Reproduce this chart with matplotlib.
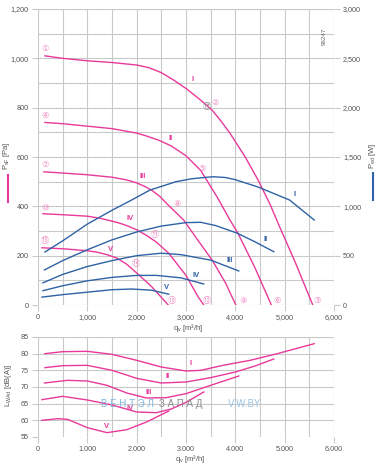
import matplotlib
matplotlib.use("Agg")
import matplotlib.pyplot as plt
from matplotlib.ticker import FuncFormatter, MultipleLocator
from matplotlib.lines import Line2D

plt.rcParams['font.family'] = ['Liberation Sans', 'DejaVu Sans']

MAGENTA = '#e8399b'
BLUE = '#2f62a6'
PINK = '#f28cc5'
GRID = '#c9c9c9'
TXT = '#555555'

# pressure curves P_sF [Pa] vs q_v [m3/h]
p1_q = [140, 500, 1000, 1500, 2000, 2250, 2500, 2750, 3020, 3300, 3530, 3700, 3890, 4200, 4460, 4700, 4900, 5200, 5570]
p1_p = [1010, 1000, 990, 983, 973, 962, 942, 912, 875, 830, 790, 748, 697, 600, 507, 410, 316, 180, 0]
p2_q = [140, 500, 1000, 1500, 2000, 2200, 2450, 2700, 3000, 3300, 3630, 3890, 4050, 4400, 4730]
p2_p = [740, 735, 725, 715, 697, 685, 668, 645, 605, 545, 438, 345, 292, 150, 0]
p3_q = [120, 500, 1000, 1500, 1800, 2000, 2150, 2300, 2470, 2640, 2950, 3250, 3530, 3800, 4010]
p3_p = [540, 535, 528, 518, 507, 495, 482, 466, 440, 405, 345, 260, 182, 90, 0]
p4_q = [100, 500, 1000, 1250, 1500, 1650, 1800, 2000, 2200, 2400, 2650, 3000, 3240, 3360]
p4_p = [370, 366, 360, 352, 340, 332, 322, 305, 282, 255, 210, 120, 35, 0]
p5_q = [80, 500, 1000, 1200, 1400, 1600, 1800, 2000, 2300, 2640]
p5_p = [232, 228, 220, 214, 204, 190, 165, 130, 75, 0]

# power curves P_ed [W]
w1_q = [140, 500, 1000, 1500, 1860, 2270, 2800, 3100, 3320, 3550, 3800, 4000, 4460, 5100, 5600]
w1_w = [537, 650, 820, 960, 1054, 1165, 1250, 1278, 1290, 1300, 1292, 1270, 1196, 1064, 861]
w2_q = [130, 500, 1000, 1500, 2000, 2500, 3000, 3300, 3600, 4030, 4400, 4780]
w2_w = [355, 450, 560, 660, 740, 800, 835, 838, 805, 730, 640, 540]
w3_q = [100, 500, 1000, 1500, 2000, 2500, 2900, 3500, 4070]
w3_w = [225, 310, 390, 450, 500, 525, 510, 455, 345]
w4_q = [100, 500, 1000, 1500, 2000, 2400, 2900, 3360]
w4_w = [145, 195, 245, 280, 300, 300, 275, 213]
w5_q = [80, 500, 1000, 1500, 1900, 2300, 2650]
w5_w = [80, 105, 130, 155, 162, 150, 110]

# sound power L_WAd [dB(A)]
l1_q = [140, 500, 1000, 1500, 2000, 2500, 3000, 3300, 3750, 4300, 4850, 5600]
l1_l = [80.0, 80.6, 80.7, 79.8, 78.0, 76.0, 74.8, 75.0, 76.5, 78.0, 80.0, 83.0]
l2_q = [140, 500, 1000, 1500, 2000, 2500, 3000, 3500, 4000, 4400, 4780]
l2_l = [75.8, 76.4, 76.5, 75.0, 72.6, 71.2, 71.5, 72.8, 74.5, 76.3, 78.4]
l3_q = [130, 600, 1000, 1400, 1800, 2200, 2600, 3000, 3500, 4070]
l3_l = [71.2, 72.0, 71.8, 70.5, 68.2, 66.7, 66.8, 68.0, 70.5, 73.3]
l4_q = [80, 500, 1000, 1500, 2000, 2400, 2700, 3000, 3360]
l4_l = [66.2, 67.2, 66.1, 64.6, 62.5, 62.3, 63.4, 65.4, 68.5]
l5_q = [80, 400, 600, 1000, 1400, 1800, 2200, 2650]
l5_l = [60.0, 60.5, 60.3, 57.8, 56.3, 57.2, 59.5, 62.8]

roman = ['I', 'II', 'III', 'IV', 'V']
start_lbl = ['①', '④', '⑦', '⑩', '⑬']
mid_lbl = ['②', '⑤', '⑧', '⑪', '⑭']
end_lbl = ['③', '⑥', '⑨', '⑫', '⑮']
CIRC = ['DejaVu Sans', 'Noto Sans CJK SC']

fig = plt.figure(figsize=(3.9, 4.67), dpi=100)
W, H = 390.0, 467.0
ax = fig.add_axes([38 / W, 1 - 305 / H, 296 / W, 296 / H])
ax2 = ax.twinx()
ax3 = fig.add_axes([38 / W, 1 - 437 / H, 296 / W, 100 / H])

comma = FuncFormatter(lambda v, p: f'{int(v):,}')
dot = FuncFormatter(lambda v, p: f'{int(v):,}'.replace(',', '.'))


def style(a):
    for s in a.spines.values():
        s.set_visible(False)
    a.set_axisbelow(True)
    a.tick_params(colors=GRID, labelcolor=TXT, labelsize=5.2, length=4, width=0.8, pad=2.5)
    a.grid(True, which='both', color=GRID, linewidth=0.8)
    a.tick_params(which='minor', length=0)


# top chart
style(ax)
ax.set_xlim(0, 6000)
ax.set_ylim(0, 1200)
ax.xaxis.set_major_locator(MultipleLocator(1000))
ax.xaxis.set_minor_locator(MultipleLocator(500))
ax.yaxis.set_major_locator(MultipleLocator(200))
ax.yaxis.set_minor_locator(MultipleLocator(100))
ax.xaxis.set_major_formatter(comma)
ax.yaxis.set_major_formatter(comma)
ax.axvline(6000, color=GRID, lw=0.8)
ax.axhline(1200, color=GRID, lw=0.8)

for s in ax2.spines.values():
    s.set_visible(False)
ax2.set_ylim(0, 3000)
ax2.yaxis.set_major_locator(MultipleLocator(500))
ax2.yaxis.set_major_formatter(comma)
ax2.tick_params(colors=GRID, labelcolor=TXT, labelsize=5.2, length=4, width=0.8, pad=2.5)

pq = [p1_q, p2_q, p3_q, p4_q, p5_q]
pp = [p1_p, p2_p, p3_p, p4_p, p5_p]
for q, p in zip(pq, pp):
    ax.plot(q, p, color=MAGENTA, lw=1.0)

wq = [w1_q, w2_q, w3_q, w4_q, w5_q]
ww = [w1_w, w2_w, w3_w, w4_w, w5_w]
for q, w in zip(wq, ww):
    ax2.plot(q, w, color=BLUE, lw=1.0)

# labels on pressure curves
p_lbl_pos = [(3140, 916), (2680, 677), (2130, 519), (1865, 349), (1460, 227)]
for r, (x, y) in zip(roman, p_lbl_pos):
    ax.text(x, y, r, color=MAGENTA, fontsize=5.5, ha='center', va='center', fontweight='bold')
w_lbl_pos = [(5210, 1125), (4620, 659), (3890, 456), (3200, 304), (2615, 182)]
for r, (x, y) in zip(roman, w_lbl_pos):
    ax2.text(x, y, r, color=BLUE, fontsize=5.5, ha='center', va='center', fontweight='bold')

start_pos = [(142, 1038), (142, 770), (150, 568), (150, 397), (140, 263)]
mid_pos = [(3590, 819), (3325, 555), (2820, 413), (2372, 284), (1986, 170)]
end_pos = [(5655, 20), (4845, 20), (4155, 20), (3426, 20), (2716, 20)]
for labels, pos in [(start_lbl, start_pos), (mid_lbl, mid_pos), (end_lbl, end_pos)]:
    for t, (x, y) in zip(labels, pos):
        ax.text(x, y, t, color=PINK, fontsize=6, ha='center', va='center', family=CIRC)
ax.text(3430, 803, '⑰', color='#888888', fontsize=6, ha='center', va='center', family=CIRC)
ax.text(5800, 1090, '96247', color='#666666', fontsize=4.5, rotation=90, ha='center', va='center')

# bottom chart
style(ax3)
ax3.set_xlim(0, 6000)
ax3.set_ylim(55, 85)
ax3.xaxis.set_major_locator(MultipleLocator(1000))
ax3.xaxis.set_minor_locator(MultipleLocator(500))
ax3.yaxis.set_major_locator(MultipleLocator(5))
ax3.xaxis.set_major_formatter(dot)
ax3.axvline(6000, color=GRID, lw=0.8)
ax3.axhline(85, color=GRID, lw=0.8)

lq = [l1_q, l2_q, l3_q, l4_q, l5_q]
ll = [l1_l, l2_l, l3_l, l4_l, l5_l]
for q, l in zip(lq, ll):
    ax3.plot(q, l, color=MAGENTA, lw=1.0)
l_lbl_pos = [(3100, 76.9), (2635, 73.0), (2250, 68.2), (1865, 63.4), (1380, 58.0)]
for r, (x, y) in zip(roman, l_lbl_pos):
    ax3.text(x, y, r, color=MAGENTA, fontsize=5.5, ha='center', va='center', fontweight='bold')

# watermark
fig.text(101 / W, 1 - 404 / H, 'В Е Н Т Э Л', color='#7fb6df', fontsize=7, ha='left', va='center')
fig.text(159 / W, 1 - 404 / H, 'З А П А Д', color='#8a8a8a', fontsize=7, ha='left', va='center')
fig.text(228 / W, 1 - 404 / H, 'V-W.BY', color='#9cc3e3', fontsize=7, ha='left', va='center')

# axis titles
fig.text(7 / W, 1 - 156 / H, r'$\mathregular{P_{sF}}$ [Pa]', rotation=90, color=TXT, fontsize=5.5,
         ha='center', va='center')
fig.add_artist(Line2D([8 / W, 8 / W], [1 - 175 / H, 1 - 202 / H], color=MAGENTA, lw=1.5))
fig.text(373 / W, 1 - 156 / H, r'$\mathregular{P_{ed}}$ [W]', rotation=90, color=TXT, fontsize=5.5,
         ha='center', va='center')
fig.add_artist(Line2D([373 / W, 373 / W], [1 - 173 / H, 1 - 200 / H], color=BLUE, lw=1.5))
fig.text(188 / W, 1 - 328 / H, r'$\mathregular{q_v}$ [m³/h]', color=TXT, fontsize=5.5, ha='center', va='center')
fig.text(190 / W, 1 - 459 / H, r'$\mathregular{q_v}$ [m³/h]', color=TXT, fontsize=5.5, ha='center', va='center')
fig.text(8 / W, 1 - 385 / H, r'$\mathregular{L_{WAd}}$ [dB(A)]', rotation=90, color=TXT, fontsize=5.5,
         ha='center', va='center')

fig.savefig('out.png', dpi=100, facecolor='white')
